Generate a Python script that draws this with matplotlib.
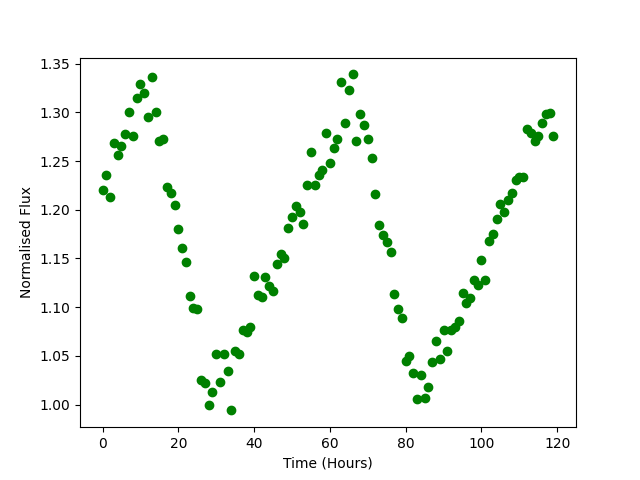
import matplotlib
matplotlib.use("Agg")
import matplotlib.pyplot as plt

# time in hours, one sample per hour
time = [0, 1, 2, 3, 4, 5, 6, 7, 8, 9,
        10, 11, 12, 13, 14, 15, 16, 17, 18, 19,
        20, 21, 22, 23, 24, 25, 26, 27, 28, 29,
        30, 31, 32, 33, 34, 35, 36, 37, 38, 39,
        40, 41, 42, 43, 44, 45, 46, 47, 48, 49,
        50, 51, 52, 53, 54, 55, 56, 57, 58, 59,
        60, 61, 62, 63, 64, 65, 66, 67, 68, 69,
        70, 71, 72, 73, 74, 75, 76, 77, 78, 79,
        80, 81, 82, 83, 84, 85, 86, 87, 88, 89,
        90, 91, 92, 93, 94, 95, 96, 97, 98, 99,
        100, 101, 102, 103, 104, 105, 106, 107, 108, 109,
        110, 111, 112, 113, 114, 115, 116, 117, 118, 119]

flux = [1.220, 1.236, 1.213, 1.269, 1.256, 1.265, 1.278, 1.300, 1.276, 1.315,
        1.329, 1.320, 1.295, 1.336, 1.300, 1.271, 1.273, 1.223, 1.217, 1.205,
        1.180, 1.161, 1.146, 1.111, 1.099, 1.098, 1.025, 1.022, 1.000, 1.013,
        1.052, 1.023, 1.052, 1.034, 0.994, 1.055, 1.052, 1.077, 1.075, 1.080,
        1.132, 1.113, 1.110, 1.131, 1.122, 1.117, 1.144, 1.155, 1.150, 1.181,
        1.193, 1.204, 1.198, 1.185, 1.225, 1.259, 1.225, 1.236, 1.241, 1.279,
        1.248, 1.263, 1.273, 1.331, 1.289, 1.323, 1.339, 1.271, 1.298, 1.287,
        1.273, 1.253, 1.216, 1.184, 1.174, 1.167, 1.157, 1.114, 1.098, 1.089,
        1.045, 1.050, 1.032, 1.006, 1.030, 1.007, 1.018, 1.044, 1.065, 1.047,
        1.077, 1.055, 1.077, 1.080, 1.086, 1.115, 1.104, 1.109, 1.128, 1.123,
        1.148, 1.128, 1.168, 1.175, 1.191, 1.206, 1.198, 1.210, 1.217, 1.231,
        1.234, 1.234, 1.283, 1.279, 1.271, 1.276, 1.289, 1.298, 1.299, 1.276]

plt.figure(figsize=(6.4, 4.8), dpi=100)
plt.plot(time, flux, 'go')
plt.xlabel("Time (Hours)")
plt.ylabel("Normalised Flux")
plt.savefig("out.png")
